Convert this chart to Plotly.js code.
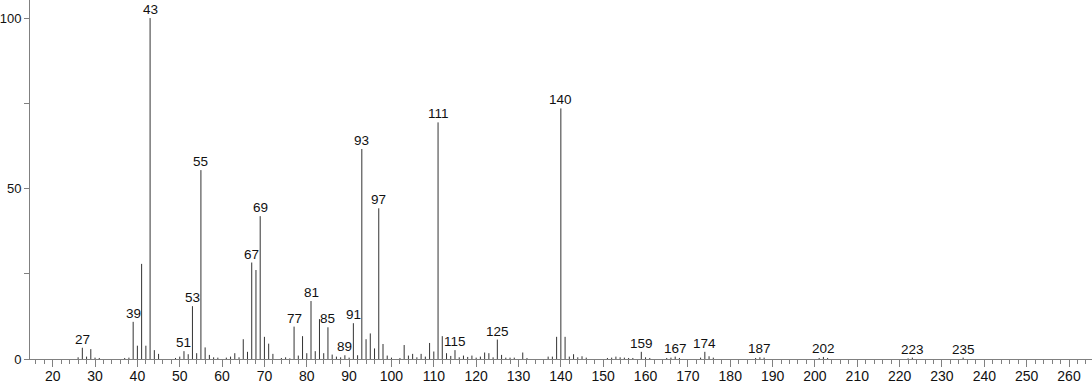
<!DOCTYPE html>
<html>
<head>
<meta charset="utf-8">
<script src="https://cdn.plot.ly/plotly-3.0.1.min.js"></script>
<style>
html,body{margin:0;padding:0;background:#fff;}
#chart{width:1092px;height:384px;}
</style>
</head>
<body>
<div id="chart"></div>
<script>
// m/z values of the peaks
var mz = [26,27,28,29,30,31,37,38,39,40,41,42,43,44,45,49,50,51,52,53,54,55,56,57,58,59,61,62,63,64,65,66,67,68,69,70,71,72,74,75,76,77,78,79,80,81,82,83,84,85,86,87,88,89,90,91,92,93,94,95,96,97,98,99,100,102,103,104,105,106,107,108,109,110,111,112,113,114,115,116,117,118,119,120,121,122,123,124,125,126,127,128,129,131,132,137,138,139,140,141,142,143,144,145,146,151,152,153,154,155,156,157,159,160,161,165,166,167,168,173,174,175,176,186,187,188,201,202,203,222,223,235];
// relative intensities (%)
var intensity = [0.5,3.3,0.7,2.9,0.4,0.3,0.3,0.4,10.9,3.9,27.9,3.9,100,2.6,1.5,0.3,0.7,2.3,1.4,15.5,1.7,55.4,3.4,1.2,0.5,0.4,0.4,0.7,1.7,0.5,5.8,2.1,28.3,26.1,41.9,6.5,4.5,1.5,0.3,0.5,0.2,9.5,1.0,6.7,1.7,17.0,2.3,11.7,1.7,9.3,1.3,0.7,0.5,1.1,0.4,10.5,1.1,61.6,5.8,7.5,3.1,44.2,4.4,1.0,0.4,0.3,4.1,1.0,1.5,0.5,1.5,0.7,4.7,2.2,69.4,6.7,1.7,0.9,2.6,0.5,1.0,0.6,1.0,0.4,0.7,1.9,1.7,0.5,5.7,1.2,0.4,0.4,0.4,1.9,0.3,0.7,0.7,6.5,73.5,6.5,0.7,1.4,0.5,0.8,0.4,0.3,0.4,0.7,0.5,0.4,0.3,0.3,2.1,0.5,0.3,0.3,0.4,0.7,0.3,0.4,2.1,0.8,0.4,0.3,0.5,0.4,0.3,0.6,0.3,0.2,0.4,0.4];
// peaks carrying an m/z label
var labeledPeaks = [27,39,43,51,53,55,67,69,77,81,85,89,91,93,97,111,115,125,140,159,167,174,187,202,223,235];
// axis tick labels
var yTickVals = [0,25,50,75,100];
var yTickText = ['0','','50','','100'];

var xs = [], ys = [];
for (var i = 0; i < mz.length; i++) {
  xs.push(mz[i], mz[i], null);
  ys.push(0, intensity[i], null);
}

var trace = {
  type: 'scatter',
  mode: 'lines',
  x: xs,
  y: ys,
  line: {color: '#333333', width: 1},
  hoverinfo: 'skip',
  showlegend: false,
  cliponaxis: false
};

var fontFam = 'Liberation Sans, Arial, Helvetica, sans-serif';
var annotations = labeledPeaks.map(function (m) {
  var v = intensity[mz.indexOf(m)];
  return {
    x: m, y: v, xref: 'x', yref: 'y',
    text: String(m), showarrow: false,
    xanchor: 'center', yanchor: 'bottom', yshift: -1,
    font: {family: fontFam, size: 13.5, color: '#111'}
  };
});

var layout = {
  width: 1092, height: 384,
  margin: {l: 30, r: 0, t: 0, b: 25, pad: 0},
  paper_bgcolor: '#fff', plot_bgcolor: '#fff',
  showlegend: false,
  font: {family: fontFam, size: 13, color: '#111'},
  xaxis: {
    range: [14.64, 265.43],
    showline: true, linecolor: '#808080', linewidth: 1,
    ticks: 'outside', ticklen: 7, tickcolor: '#808080', tickwidth: 1,
    tick0: 0, dtick: 10,
    ticklabelstandoff: -3,
    showgrid: false, zeroline: false,
    tickfont: {family: fontFam, size: 14, color: '#111'},
    minor: {dtick: 2, ticks: 'outside', ticklen: 4, tickcolor: '#808080', tickwidth: 1, showgrid: false}
  },
  yaxis: {
    range: [0, 105.3],
    showline: true, linecolor: '#808080', linewidth: 1,
    ticks: 'outside', ticklen: 5, tickcolor: '#808080', tickwidth: 1,
    tickvals: yTickVals, ticktext: yTickText,
    showgrid: false, zeroline: false,
    tickfont: {family: fontFam, size: 13, color: '#111'}
  },
  annotations: annotations
};

Plotly.newPlot('chart', [trace], layout, {staticPlot: true, displayModeBar: false});
</script>
</body>
</html>
